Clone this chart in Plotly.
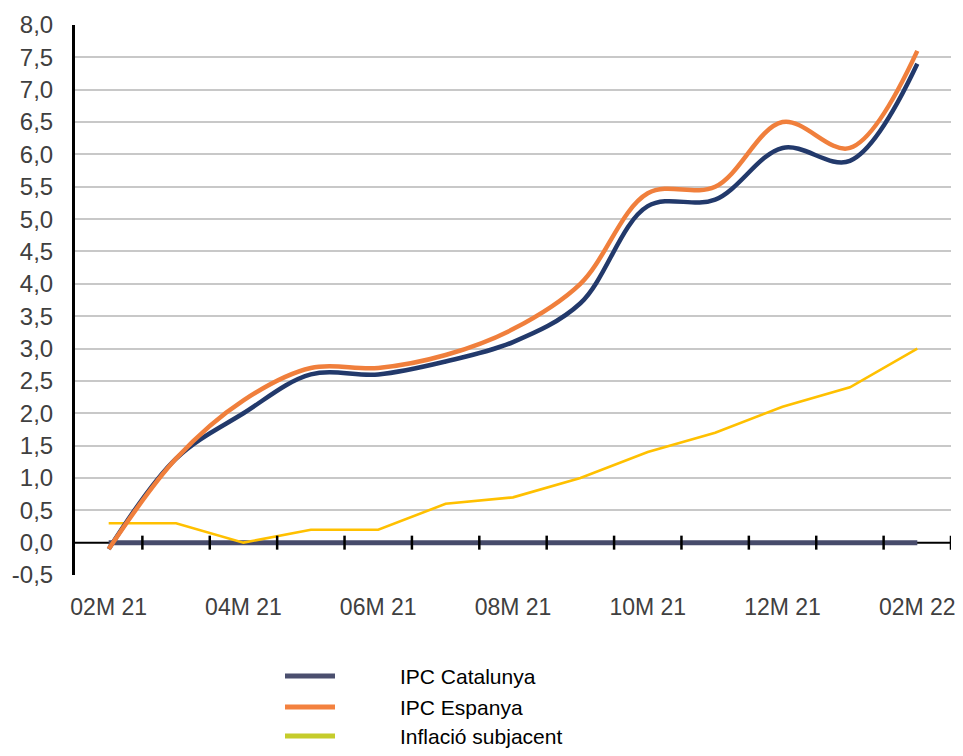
import plotly.graph_objects as go

months = ["02M 21", "03M 21", "04M 21", "05M 21", "06M 21", "07M 21", "08M 21",
          "09M 21", "10M 21", "11M 21", "12M 21", "01M 22", "02M 22"]
tick_labels = ["02M 21", "04M 21", "06M 21", "08M 21", "10M 21", "12M 21", "02M 22"]
ipc_catalunya = [-0.1, 1.3, 2.0, 2.6, 2.6, 2.8, 3.1, 3.7, 5.2, 5.3, 6.1, 5.9, 7.4]
ipc_espanya = [-0.1, 1.3, 2.2, 2.7, 2.7, 2.9, 3.3, 4.0, 5.4, 5.5, 6.5, 6.1, 7.6]
inflacio_subjacent = [0.3, 0.3, 0.0, 0.2, 0.2, 0.6, 0.7, 1.0, 1.4, 1.7, 2.1, 2.4, 3.0]
baseline = [0.0] * len(months)

series_names = ["IPC Catalunya", "IPC Espanya", "Inflació subjacent"]
legend_colors = ["#4B4F6E", "#F3813F", "#C5CC2B"]

y_ticks = [i / 2 for i in range(-1, 17)]
y_ticktext = [f"{v:.1f}".replace(".", ",") for v in y_ticks]
grid_vals = [v for v in y_ticks if 0 < v < 8]

NAVY = "#22396B"
ORANGE = "#F07F3C"
YELLOW = "#FFC000"
BASE = "#474B6B"

# page body has an 8px margin; figure is sized so the page does not overflow
# and the plot area lands at screen x 75..951, y 25..575
OFF = 8
W, H = 963 - 2 * OFF, 756 - 2 * OFF
ML, MT = 75 - OFF, 25 - OFF
PW, PH = 876, 550
MR, MB = W - ML - PW, H - MT - PH


def px_x(px):
    return (px - OFF - ML) / PW


def px_y(py):
    return (MT + PH - (py - OFF)) / PH


fig = go.Figure()
fig.add_trace(go.Scatter(x=months, y=baseline, mode="lines",
                         line=dict(color=BASE, width=5), showlegend=False, hoverinfo="skip"))
fig.add_trace(go.Scatter(x=months, y=inflacio_subjacent, mode="lines", name=series_names[2],
                         line=dict(color=YELLOW, width=2.6), showlegend=False))
fig.add_trace(go.Scatter(x=months, y=ipc_catalunya, mode="lines", name=series_names[0],
                         line=dict(color=NAVY, width=4.5, shape="spline", smoothing=1),
                         showlegend=False))
fig.add_trace(go.Scatter(x=months, y=ipc_espanya, mode="lines", name=series_names[1],
                         line=dict(color=ORANGE, width=4.5, shape="spline", smoothing=1),
                         showlegend=False))

# invisible trace to activate the gridline axis
fig.add_trace(go.Scatter(x=[months[0]], y=[None], yaxis="y2", showlegend=False,
                         hoverinfo="skip"))

shapes = [dict(type="line", xref="paper", yref="y", x0=0, x1=1, y0=0, y1=0,
               line=dict(color="black", width=2), layer="below")]
half = 7 / PH
zero_p = 0.5 / 8.5
for i in range(len(months)):
    shapes.append(dict(type="line", xref="x", yref="paper", x0=i + 0.5, x1=i + 0.5,
                       y0=zero_p - half, y1=zero_p + half,
                       line=dict(color="black", width=2.5), layer="above"))

# custom legend
annotations = []
legend_rows = [676, 707, 736]
for name, col, ry in zip(series_names, legend_colors, legend_rows):
    shapes.append(dict(type="line", xref="paper", yref="paper",
                       x0=px_x(285), x1=px_x(335), y0=px_y(ry), y1=px_y(ry),
                       line=dict(color=col, width=5)))
    annotations.append(dict(text=name, xref="paper", yref="paper", x=px_x(398), y=px_y(ry),
                            xanchor="left", yanchor="middle", showarrow=False,
                            font=dict(size=21, color="black")))

fig.update_layout(
    width=W, height=H,
    margin=dict(l=ML, r=MR, t=MT, b=MB, autoexpand=False),
    plot_bgcolor="white", paper_bgcolor="white",
    font=dict(family="Liberation Sans, Arial, sans-serif", color="#404040"),
    xaxis=dict(type="category", categoryorder="array", categoryarray=months,
               range=[-0.5, len(months) - 0.5], automargin=False,
               tickmode="array", tickvals=tick_labels, ticktext=tick_labels,
               showgrid=False, showline=False, zeroline=False,
               ticks="outside", ticklen=11, tickcolor="rgba(0,0,0,0)",
               tickfont=dict(size=23, color="#404040")),
    yaxis=dict(range=[-0.5, 8.0], tickmode="array", tickvals=y_ticks, ticktext=y_ticktext,
               showgrid=False, zeroline=False, showline=True, linecolor="black", linewidth=3,
               automargin=False,
               ticks="outside", ticklen=14, tickcolor="rgba(0,0,0,0)",
               tickfont=dict(size=24, color="#404040")),
    yaxis2=dict(range=[-0.5, 8.0], overlaying="y", tickmode="array", tickvals=grid_vals,
                showticklabels=False, showgrid=True, gridcolor="#C8C8C8", gridwidth=2,
                zeroline=False, showline=False, automargin=False),
    shapes=shapes,
    annotations=annotations,
    showlegend=False,
)

fig.write_html("out.html")
